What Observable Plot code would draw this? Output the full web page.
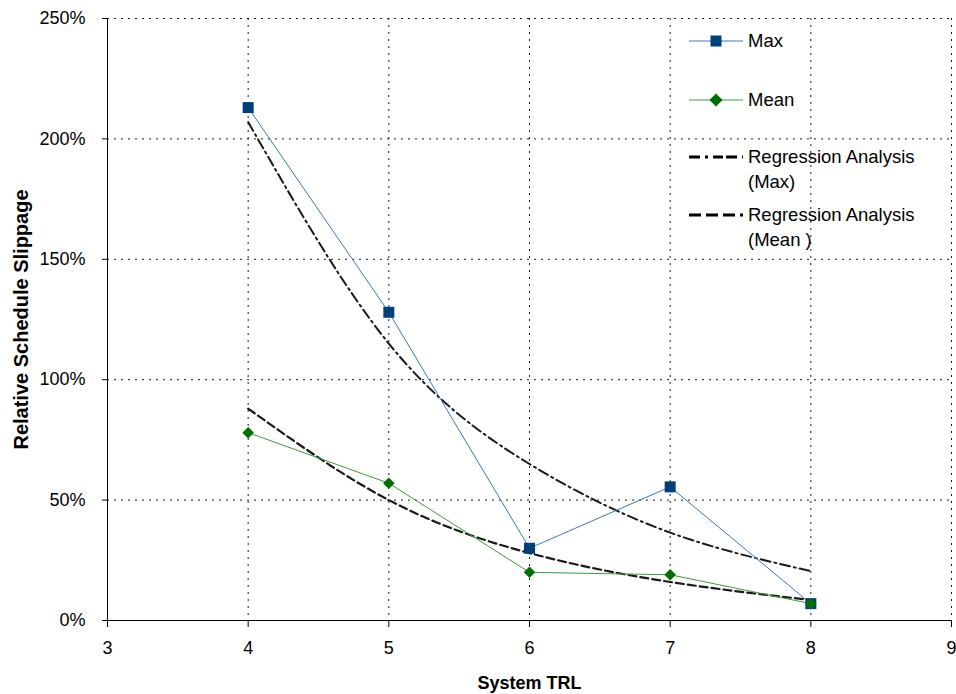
<!DOCTYPE html>
<html><head><meta charset="utf-8">
<script src="https://cdn.jsdelivr.net/npm/d3@7"></script>
<script src="https://cdn.jsdelivr.net/npm/@observablehq/plot@0.6"></script>
<style>
body{margin:0;background:#fff;font-family:"Liberation Sans",Arial,sans-serif;}
#wrap{position:relative;width:956px;height:694px;}
#legend{position:absolute;left:0;top:0;}
g[aria-label="x-axis label"] text{font-weight:bold;font-size:18px;}
g[aria-label="y-axis label"] text{font-weight:bold;font-size:20px;}
</style></head><body><div id="wrap"></div>
<script>
const trl = [4, 5, 6, 7, 8];
const maxSlip = [213, 128, 30, 55.5, 7];
const meanSlip = [78, 57, 20, 19, 7];
const regMax = [207, 115, 65, 36.5, 20.5];
const regMean = [88, 50, 28, 16, 8.5];
const xTicks = [3, 4, 5, 6, 7, 8, 9];
const yTicks = [0, 50, 100, 150, 200, 250];
const legendItems = ["Max", "Mean", "Regression Analysis|(Max)", "Regression Analysis|(Mean )"];

const maxData = trl.map((x, i) => ({x, y: maxSlip[i]}));
const meanData = trl.map((x, i) => ({x, y: meanSlip[i]}));
const regMaxData = trl.map((x, i) => ({x, y: regMax[i]}));
const regMeanData = trl.map((x, i) => ({x, y: regMean[i]}));

const maxLine = "#3d78b0", maxMark = "#003f7a";
const meanLine = "#3c9a3c", meanMark = "#007000";

const chart = Plot.plot({
  width: 956, height: 694,
  marginLeft: 107, marginRight: 5, marginTop: 18, marginBottom: 74,
  style: {fontFamily: '"Liberation Sans", Arial, sans-serif', fontSize: "18px", color: "#000", background: "#fff"},
  x: {domain: [3, 9]},
  y: {domain: [0, 250]},
  marks: [
    Plot.gridX(xTicks.slice(1), {stroke: "#000", strokeOpacity: 0.9, strokeDasharray: "2,5"}),
    Plot.gridY(yTicks.slice(1), {stroke: "#000", strokeOpacity: 0.9, strokeDasharray: "2,5"}),
    Plot.ruleX([3], {stroke: "#000"}),
    Plot.ruleY([0], {stroke: "#000", strokeWidth: 1.2}),
    Plot.axisY(yTicks, {tickFormat: d => d + "%", tickSize: 5, tickPadding: 17, fontSize: 18,
      label: "Relative Schedule Slippage", labelAnchor: "center", labelOffset: 94, labelArrow: "none"}),
    Plot.axisX(xTicks, {tickFormat: d => String(d), tickSize: 7, tickPadding: 14, fontSize: 18,
      label: "System TRL", labelAnchor: "center", labelOffset: 68, labelArrow: "none"}),
    Plot.line(regMaxData, {x: "x", y: "y", curve: "natural", stroke: "#1a1a1a", strokeWidth: 2, strokeDasharray: "10,4,2,4"}),
    Plot.line(regMeanData, {x: "x", y: "y", curve: "natural", stroke: "#1a1a1a", strokeWidth: 2.2, strokeDasharray: "8,4"}),
    Plot.line(maxData, {x: "x", y: "y", stroke: maxLine, strokeWidth: 1}),
    Plot.line(meanData, {x: "x", y: "y", stroke: meanLine, strokeWidth: 1}),
    Plot.dot(maxData, {x: "x", y: "y", symbol: "square", r: 6.2, fill: maxMark, stroke: "none"}),
    Plot.dot(meanData, {x: "x", y: "y", symbol: "diamond2", r: 5.2, fill: meanMark, stroke: "none"})
  ]
});
document.getElementById("wrap").appendChild(chart);

// Legend (inside plot, top right)
const ns = "http://www.w3.org/2000/svg";
const leg = document.createElementNS(ns, "svg");
leg.setAttribute("id", "legend");
leg.setAttribute("width", 956);
leg.setAttribute("height", 694);
leg.style.pointerEvents = "none";
const rowsY = [41, 100, 157, 215];
const styles = [
  {stroke: maxLine, w: 1, dash: null, sym: "square", fill: maxMark},
  {stroke: meanLine, w: 1, dash: null, sym: "diamond", fill: meanMark},
  {stroke: "#000", w: 3, dash: "11,5,3,5,10,3", sym: null},
  {stroke: "#000", w: 3, dash: "12,5", sym: null}
];
legendItems.forEach((lab, i) => {
  const y = rowsY[i], st = styles[i];
  const ln = document.createElementNS(ns, "line");
  ln.setAttribute("x1", 689); ln.setAttribute("x2", 743);
  ln.setAttribute("y1", y); ln.setAttribute("y2", y);
  ln.setAttribute("stroke", st.stroke); ln.setAttribute("stroke-width", st.w);
  if (st.dash) ln.setAttribute("stroke-dasharray", st.dash);
  leg.appendChild(ln);
  if (st.sym === "square") {
    const r = document.createElementNS(ns, "rect");
    r.setAttribute("x", 716 - 5.5); r.setAttribute("y", y - 5.5);
    r.setAttribute("width", 11); r.setAttribute("height", 11); r.setAttribute("fill", st.fill);
    leg.appendChild(r);
  } else if (st.sym === "diamond") {
    const p = document.createElementNS(ns, "path");
    p.setAttribute("d", `M716,${y-6.5}L722.5,${y}L716,${y+6.5}L709.5,${y}Z`);
    p.setAttribute("fill", st.fill);
    leg.appendChild(p);
  }
  lab.split("|").forEach((t, j) => {
    const tx = document.createElementNS(ns, "text");
    tx.setAttribute("x", 748); tx.setAttribute("y", y + j * 25);
    tx.setAttribute("dy", "0.35em");
    tx.setAttribute("font-size", 18.5);
    tx.setAttribute("font-family", '"Liberation Sans", Arial, sans-serif');
    tx.textContent = t;
    leg.appendChild(tx);
  });
});
document.getElementById("wrap").appendChild(leg);
</script>
</body></html>
